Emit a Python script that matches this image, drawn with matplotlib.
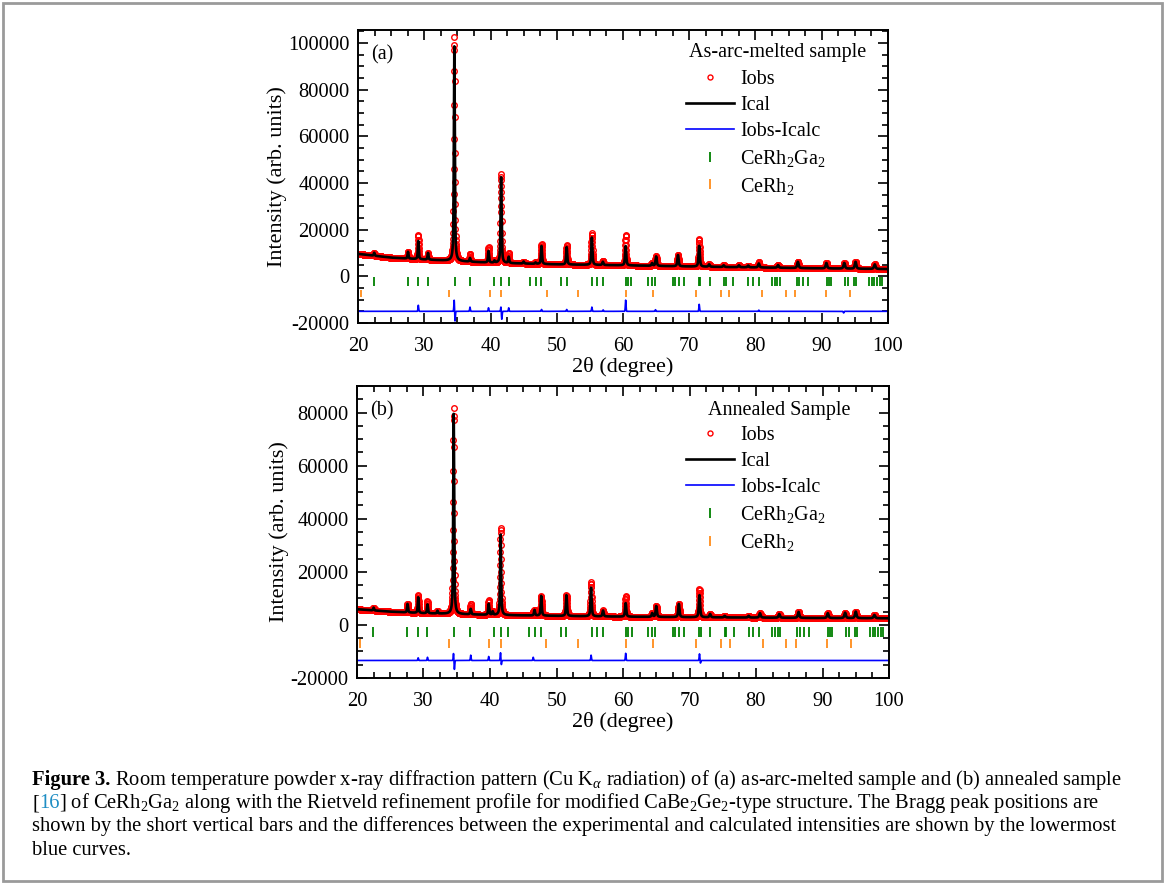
import numpy as np
import matplotlib
matplotlib.use("Agg")
import matplotlib.pyplot as plt
from matplotlib.lines import Line2D
from matplotlib.patches import Rectangle
from matplotlib.ticker import MultipleLocator

plt.rcParams['font.family'] = ['Liberation Serif', 'DejaVu Serif']
plt.rcParams['mathtext.fontset'] = 'custom'
plt.rcParams['mathtext.rm'] = 'Liberation Serif'
plt.rcParams['mathtext.it'] = 'Liberation Serif:italic'
plt.rcParams['mathtext.bf'] = 'Liberation Serif:bold'
plt.rcParams['axes.unicode_minus'] = False

# ---------------- data ----------------
x_range = (20, 100)
step = 0.02

# Panel (a): as-arc-melted sample
bg_a_x = [20, 25, 30, 40, 50, 60, 70, 80, 90, 100]
bg_a_y = [9600, 8000, 7200, 5800, 5100, 4700, 4200, 3800, 3400, 3100]
peak_a_pos = [22.45, 27.55, 29.10, 30.57, 34.54, 36.90, 39.70, 40.60, 41.60, 42.75,
              45.00, 46.80, 47.70, 51.50, 55.30, 56.96, 60.40, 64.40, 65.00, 68.30,
              71.50, 73.00, 75.20, 77.50, 78.90, 80.50, 83.40, 86.40, 90.70, 93.40,
              95.10, 98.00]
peak_a_calc = [10100, 10500, 15100, 10000, 98500, 7800, 10800, 6600, 42400, 8300,
               6300, 5900, 13000, 12500, 16600, 6200, 13000, 5600, 8500, 9100,
               13000, 5100, 4700, 4700, 4600, 5500, 4800, 6200, 5700, 5700,
               6200, 5100]
diff_a_pos = [29.10, 34.52, 34.64, 36.90, 39.70, 41.58, 41.70, 42.75, 47.70, 51.50,
              55.30, 57.00, 60.40, 64.90, 71.50, 80.50, 93.30]
diff_a_amp = [2600, 5000, -4400, 1800, 1500, 2000, -3500, 1500, 800, 800,
              1800, 600, 4800, 700, 3000, 500, -700]
diff_a_offset = -15000

# Panel (b): annealed sample
bg_b_x = [20, 25, 30, 40, 50, 60, 70, 80, 90, 100]
bg_b_y = [5900, 5000, 4400, 3750, 3400, 3100, 2900, 2750, 2600, 2500]
peak_b_pos = [22.50, 27.60, 29.20, 30.60, 32.10, 34.54, 37.10, 39.80, 40.40, 41.60,
              46.70, 47.70, 51.50, 55.20, 57.00, 60.40, 64.40, 65.00, 68.40, 71.50,
              73.10, 75.30, 78.90, 80.60, 83.50, 86.40, 90.80, 93.40, 95.00, 97.80]
peak_b_calc = [6500, 7900, 10400, 7700, 5300, 79500, 6000, 7900, 5000, 34000,
               5600, 10900, 11200, 14000, 5400, 8200, 4400, 7100, 7900, 11200,
               4100, 3400, 3400, 4400, 4100, 4900, 4400, 4600, 5000, 3750]
diff_b_pos = [29.20, 30.60, 34.52, 34.64, 37.10, 39.80, 41.58, 41.70, 46.50, 55.20,
              60.40, 71.50, 71.65]
diff_b_amp = [1000, 1200, 2800, -3500, 2000, 1500, 3000, -1700, 1200, 2000,
              2700, 2500, -1000]
diff_b_offset = -13400

# Bragg reflections
bragg_CeRh2Ga2 = [22.45, 27.55, 29.11, 30.57, 34.58, 36.92, 40.56, 41.60, 42.75, 45.92,
                  46.81, 47.69, 50.71, 51.49, 55.29, 56.07, 56.96, 60.50, 60.76, 61.28,
                  63.73, 64.40, 64.77, 67.53, 67.89, 68.41, 69.19, 71.43, 71.69, 73.10,
                  75.28, 75.54, 76.64, 78.93, 79.61, 80.49, 82.47, 82.88, 83.25, 83.66,
                  86.22, 86.63, 87.15, 87.93, 90.80, 91.06, 91.42, 93.50, 93.92, 94.86,
                  95.22, 97.20, 97.56, 97.92, 98.34, 98.76, 99.12]
bragg_CeRh2 = [20.42, 33.79, 39.89, 41.60, 48.47, 53.16, 60.45, 64.51, 71.02, 74.76,
               76.07, 81.01, 84.55, 85.96, 90.64, 94.28]

labels = ['Iobs', 'Ical', 'Iobs-Icalc', 'CeRh$_2$Ga$_2$', 'CeRh$_2$']

# ---------------- profile building ----------------
two_theta = np.arange(x_range[0], x_range[1] + step / 2, step)


def pv(x, x0, fwhm, eta=0.6):
    d = (x - x0) / fwhm
    lor = 1.0 / (1.0 + 4.0 * d * d)
    gau = np.exp(-4.0 * np.log(2) * d * d)
    return eta * lor + (1 - eta) * gau


def build(bg_x, bg_y, pos, heights, dpos, damp):
    bg = np.interp(two_theta, bg_x, bg_y)
    calc = bg.copy()
    for p, h in zip(pos, heights):
        net = h - np.interp(p, bg_x, bg_y)
        calc += net * pv(two_theta, p, 0.15 + 0.0015 * (p - 20))
    diff = np.zeros_like(two_theta)
    for p, a in zip(dpos, damp):
        diff += a * np.exp(-0.5 * ((two_theta - p) / 0.05) ** 2)
    return calc + diff, calc, diff


W, H = 1168, 883
fig = plt.figure(figsize=(W / 100, H / 100), dpi=100)
fig.patch.set_facecolor('white')

fig.add_artist(Rectangle((2.5 / W, 1 - 881 / H), (1162 - 2.5) / W, (881 - 3) / H,
                         transform=fig.transFigure, fill=False,
                         edgecolor='#9a9a9a', lw=2))

ax_a = fig.add_axes([358 / W, 1 - 323 / H, (888 - 358) / W, (323 - 30) / H])
ax_b = fig.add_axes([357 / W, 1 - 678 / H, (889 - 357) / W, (678 - 386) / H])

panels = [
    (ax_a, bg_a_x, bg_a_y, peak_a_pos, peak_a_calc, diff_a_pos, diff_a_amp, diff_a_offset,
     (-20000, 105500), '(a)', 'As-arc-melted sample',
     (-500, -4000), (-5800, -9000), (0.619, 0.864), (0.792, 0.922)),
    (ax_b, bg_b_x, bg_b_y, peak_b_pos, peak_b_calc, diff_b_pos, diff_b_amp, diff_b_offset,
     (-20000, 90000), '(b)', 'Annealed Sample',
     (-600, -4400), (-5400, -8700), (0.618, 0.863), (0.793, 0.915)),
]

for (ax, bx, by, pp, ph, dp, da, doff, ylim, tag, title, grow, orow, leg_anchor, title_xy) in panels:
    obs, calc, diff = build(bx, by, pp, ph, dp, da)
    ax.plot(two_theta, obs, ls='none', marker='o', ms=4.0, mfc='none', mec='#ff0000', mew=1.0)
    ax.plot(two_theta, calc, color='black', lw=1.9)
    ax.plot(two_theta, diff + doff, color='#0000ff', lw=1.2)
    ax.vlines(bragg_CeRh2Ga2, grow[1], grow[0], color='#008000', lw=1.3)
    ax.vlines(bragg_CeRh2, orow[1], orow[0], color='#ff8c1a', lw=1.3)

    ax.set_xlim(*x_range)
    ax.set_ylim(*ylim)
    ax.xaxis.set_major_locator(MultipleLocator(10))
    ax.xaxis.set_minor_locator(MultipleLocator(2.5))
    ax.yaxis.set_major_locator(MultipleLocator(20000))
    ax.yaxis.set_minor_locator(MultipleLocator(5000))
    ax.tick_params(which='both', direction='in', top=True, right=True, width=1.2,
                   labelsize=14.8, pad=6)
    ax.tick_params(axis='x', which='both', pad=10)
    ax.tick_params(which='major', length=7)
    ax.tick_params(which='minor', length=4)
    for s in ax.spines.values():
        s.set_linewidth(1.4)
    ax.set_xlabel('2\u03b8 (degree)', fontsize=16, labelpad=1)
    ax.set_ylabel('Intensity (arb. units)', fontsize=16, labelpad=1)
    ax.text(0.025, 0.915, tag, transform=ax.transAxes, fontsize=14.5, ha='left', va='center')
    ax.text(title_xy[0], title_xy[1], title, transform=ax.transAxes, fontsize=14.5,
            ha='center', va='center')

    handles = [
        Line2D([], [], ls='none', marker='o', ms=3.6, mfc='none', mec='#ff0000', mew=1.0),
        Line2D([], [], color='black', lw=1.9),
        Line2D([], [], color='#0000ff', lw=1.2),
        Line2D([], [], ls='none', marker='|', ms=7, mew=1.3, color='#008000'),
        Line2D([], [], ls='none', marker='|', ms=7, mew=1.3, color='#ff8c1a'),
    ]
    ax.legend(handles, labels, loc='upper left', frameon=False,
              fontsize=14.5, handlelength=2.4, handletextpad=0.3,
              labelspacing=0.34, borderaxespad=0, borderpad=0,
              bbox_to_anchor=leg_anchor)

# ---------------- caption ----------------
renderer = fig.canvas.get_renderer()
cap_left = 32
cap_baselines = [785, 808, 831, 855]
link_color = '#1f8ec4'

cap_lines = [
    [('Figure 3.', 'black', 'bold'),
     (' Room temperature powder x-ray diffraction pattern (Cu K$_{\\alpha}$ radiation) of (a) as-arc-melted sample and (b) annealed sample', 'black', 'normal')],
    [('[', 'black', 'normal'), ('16', link_color, 'normal'),
     ('] of CeRh$_2$Ga$_2$ along with the Rietveld refinement profile for modified CaBe$_2$Ge$_2$-type structure. The Bragg peak positions are', 'black', 'normal')],
    [('shown by the short vertical bars and the differences between the experimental and calculated intensities are shown by the lowermost', 'black', 'normal')],
    [('blue curves.', 'black', 'normal')],
]


def seg_width(txt, size, weight):
    t1 = fig.text(0, 0, 'X' + txt + 'X', fontsize=size, weight=weight)
    t2 = fig.text(0, 0, 'XX', fontsize=size, weight=weight)
    w = t1.get_window_extent(renderer).width - t2.get_window_extent(renderer).width
    t1.remove()
    t2.remove()
    return w


ref_size = 13.0
target_w = 1116 - cap_left
w3 = seg_width(cap_lines[2][0][0], ref_size, 'normal')
cap_size = ref_size * target_w / w3

for segs, yb in zip(cap_lines, cap_baselines):
    x = cap_left
    for txt, col, wt in segs:
        fig.text(x / W, 1 - yb / H, txt, fontsize=cap_size, color=col, weight=wt,
                 ha='left', va='baseline')
        x += seg_width(txt, cap_size, wt)

fig.savefig('out.png', dpi=100, facecolor='white')
